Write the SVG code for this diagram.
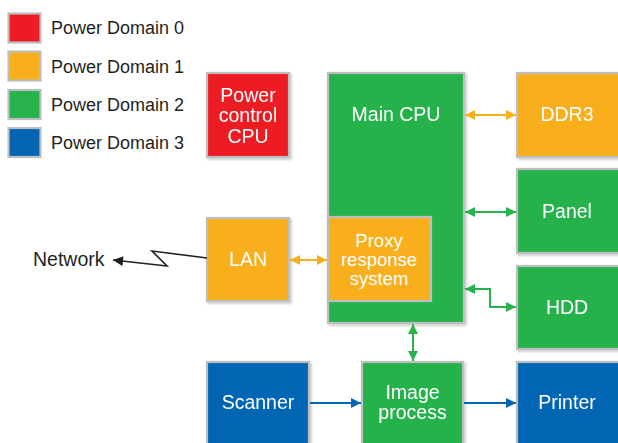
<svg xmlns="http://www.w3.org/2000/svg" width="618" height="443" viewBox="0 0 618 443">
<style>
.box{stroke:#BDBEC0;stroke-width:2.2}
.red{fill:#ED1C24}.org{fill:#F9AE1C}.grn{fill:#27B24C}.blu{fill:#0465B3}
.lbl{font-family:"Liberation Sans",Arial,sans-serif;font-size:19.5px;fill:#FFFFFF;text-anchor:middle}
.sm{font-size:18.5px}
.leg{font-family:"Liberation Sans",Arial,sans-serif;font-size:18px;fill:#231F20}
.net{font-family:"Liberation Sans",Arial,sans-serif;font-size:19.5px;fill:#231F20}
.c{fill:none;stroke-width:2}
</style>
<defs>
<filter id="sh" x="-10%" y="-10%" width="130%" height="130%">
<feDropShadow dx="1.5" dy="1.5" stdDeviation="1" flood-color="#000" flood-opacity="0.25"/>
</filter>
<marker id="aO" viewBox="0 0 10 10" refX="10" refY="5" markerWidth="10" markerHeight="10" markerUnits="userSpaceOnUse" orient="auto-start-reverse"><path d="M0,0L10,5L0,10z" fill="#F9AE1C"/></marker>
<marker id="aG" viewBox="0 0 10 10" refX="10" refY="5" markerWidth="10" markerHeight="10" markerUnits="userSpaceOnUse" orient="auto-start-reverse"><path d="M0,0L10,5L0,10z" fill="#27B24C"/></marker>
<marker id="aB" viewBox="0 0 10 10" refX="10" refY="5" markerWidth="10" markerHeight="10" markerUnits="userSpaceOnUse" orient="auto-start-reverse"><path d="M0,0L10,5L0,10z" fill="#0465B3"/></marker>
<marker id="aK" viewBox="0 0 10 10" refX="10" refY="5" markerWidth="11" markerHeight="10" markerUnits="userSpaceOnUse" orient="auto-start-reverse"><path d="M0,0L10,5L0,10z" fill="#231F20"/></marker>
</defs>
<rect width="618" height="443" fill="#FFFFFF"/>

<g id="legend">
<rect x="8.5" y="13.5" width="32" height="29" class="box red"/>
<text x="51" y="34" class="leg">Power Domain 0</text>
<rect x="8.5" y="51.5" width="32" height="29" class="box org"/>
<text x="51" y="72.5" class="leg">Power Domain 1</text>
<rect x="8.5" y="90" width="32" height="29" class="box grn"/>
<text x="51" y="110.5" class="leg">Power Domain 2</text>
<rect x="8.5" y="128" width="32" height="29" class="box blu"/>
<text x="51" y="148.5" class="leg">Power Domain 3</text>
</g>

<g id="power-control-cpu" filter="url(#sh)">
<rect x="207" y="73" width="82" height="84" class="box red"/>
<text x="248" y="102" class="lbl">Power</text>
<text x="248" y="122" class="lbl">control</text>
<text x="248" y="143" class="lbl">CPU</text>
</g>

<g id="main-cpu" filter="url(#sh)">
<rect x="328" y="73" width="136" height="250" class="box grn"/>
<text x="396" y="121" class="lbl">Main CPU</text>
</g>

<g id="proxy-response-system">
<rect x="328" y="217" width="103" height="84" class="box org"/>
<text x="379" y="247" class="lbl sm">Proxy</text>
<text x="379" y="266" class="lbl sm">response</text>
<text x="379" y="285" class="lbl sm">system</text>
</g>

<g id="ddr3" filter="url(#sh)">
<rect x="517" y="73" width="110" height="84" class="box org"/>
<text x="567" y="121" class="lbl">DDR3</text>
</g>

<g id="panel" filter="url(#sh)">
<rect x="517" y="169" width="110" height="84" class="box grn"/>
<text x="567" y="218" class="lbl">Panel</text>
</g>

<g id="hdd" filter="url(#sh)">
<rect x="517" y="266" width="110" height="83" class="box grn"/>
<text x="567" y="314" class="lbl">HDD</text>
</g>

<g id="lan" filter="url(#sh)">
<rect x="207" y="218" width="82" height="83" class="box org"/>
<text x="248" y="266" class="lbl">LAN</text>
</g>

<g id="network">
<text x="33" y="266" class="net">Network</text>
</g>

<g id="scanner" filter="url(#sh)">
<rect x="207" y="362" width="102" height="95" class="box blu"/>
<text x="258" y="409" class="lbl">Scanner</text>
</g>

<g id="image-process" filter="url(#sh)">
<rect x="362" y="362" width="101" height="95" class="box grn"/>
<text x="412.5" y="399" class="lbl">Image</text>
<text x="412.5" y="419" class="lbl">process</text>
</g>

<g id="printer" filter="url(#sh)">
<rect x="517" y="362" width="110" height="95" class="box blu"/>
<text x="567" y="409" class="lbl">Printer</text>
</g>

<g id="connectors">
<line x1="465" y1="115" x2="516" y2="115" class="c" stroke="#F9AE1C" marker-start="url(#aO)" marker-end="url(#aO)"/>
<line x1="465" y1="212" x2="516" y2="212" class="c" stroke="#27B24C" marker-start="url(#aG)" marker-end="url(#aG)"/>
<polyline points="465,289 490,289 490,307 516,307" class="c" stroke="#27B24C" marker-start="url(#aG)" marker-end="url(#aG)"/>
<line x1="290" y1="260" x2="327" y2="260" class="c" stroke="#F9AE1C" marker-start="url(#aO)" marker-end="url(#aO)"/>
<line x1="413" y1="324" x2="413" y2="361" class="c" stroke="#27B24C" marker-start="url(#aG)" marker-end="url(#aG)"/>
<line x1="310" y1="403" x2="361" y2="403" class="c" stroke="#0465B3" marker-end="url(#aB)"/>
<line x1="464" y1="403" x2="516" y2="403" class="c" stroke="#0465B3" marker-end="url(#aB)"/>
<polyline points="207,258 152,251 167,266 113,260" fill="none" stroke="#231F20" stroke-width="1.6" stroke-linejoin="miter" marker-end="url(#aK)"/>
</g>
</svg>
